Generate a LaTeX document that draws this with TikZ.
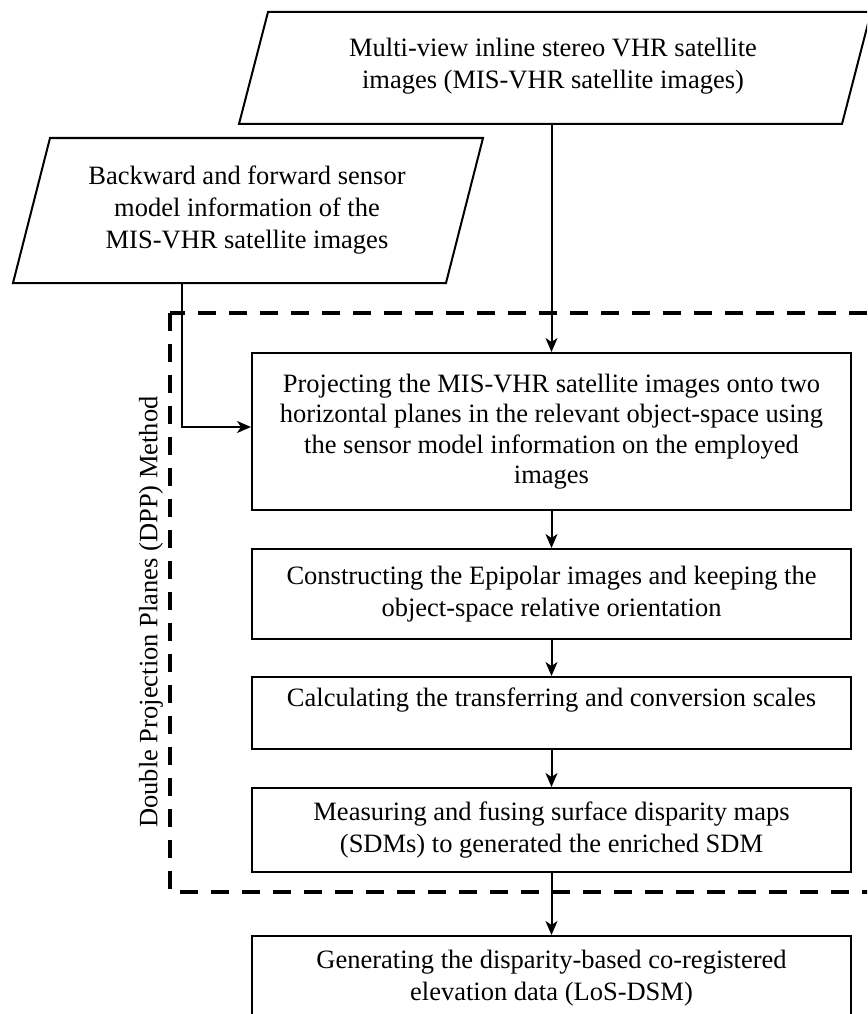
\documentclass[tikz,border=0pt]{standalone}
\usepackage{fontspec}
\setmainfont{Liberation Serif}
\usetikzlibrary{arrows.meta}
\begin{document}
\begin{tikzpicture}[x=1pt,y=-1pt,
  lbl/.style={align=center, inner sep=0pt, font=\fontsize{26.5}{32}\selectfont},
  box/.style={lbl, draw, line width=2pt, minimum width=599pt},
  para/.style={draw, line width=2pt, line join=miter},
  conn/.style={line width=2pt, -{Stealth[length=14pt,width=12pt,inset=4pt]}},
  dpp/.style={line width=4pt, dash pattern=on 18pt off 13pt}]
\useasboundingbox (0,0) rectangle (867,1014);
\clip (0,0) rectangle (867,1014);
% input parallelograms
\draw[para] (268,12) -- (871,12) -- (842,124) -- (239,124) -- cycle;
\node[lbl] (tin) at (553,66) {Multi-view inline stereo VHR satellite\\images (MIS-VHR satellite images)};
\coordinate (tpb) at (551.5,124);
\draw[para] (50,138) -- (483,138) -- (446,283) -- (13,283) -- cycle;
\node[lbl] (lin) at (247,210) {Backward and forward sensor\\model information of the\\MIS-VHR satellite images};
\coordinate (lpb) at (182,283);
% DPP dashed frame
\draw[dpp] (170,313) rectangle (885,892);
\node[lbl, rotate=90] (dpplbl) at (151,612) {Double Projection Planes (DPP) Method};
% process boxes
\node[box, minimum height=157pt, font=\fontsize{26.5}{30.5}\selectfont] (b1) at (551.5,431.5) {Projecting the MIS-VHR satellite images onto two\\horizontal planes in the relevant object-space using\\the sensor model information on the employed\\images};
\node[box, minimum height=90pt] (b2) at (551.5,594) {Constructing the Epipolar images and keeping the\\object-space relative orientation};
\node[box, minimum height=72pt] (b3) at (551.5,713) {Calculating the transferring and conversion scales\\\mbox{}};
\node[box, minimum height=84pt] (b4) at (551.5,830) {Measuring and fusing surface disparity maps\\(SDMs) to generated the enriched SDM};
\node[box, minimum height=84pt] (b5) at (551.5,978) {Generating the disparity-based co-registered\\elevation data (LoS-DSM)};
% connectors
\draw[conn] (tpb) -- (b1.north);
\draw[conn] (lpb) |- ([yshift=4.5pt]b1.west);
\draw[conn] (b1) -- (b2);
\draw[conn] (b2) -- (b3);
\draw[conn] (b3) -- (b4);
\draw[conn] (b4) -- (b5);
\end{tikzpicture}
\end{document}
